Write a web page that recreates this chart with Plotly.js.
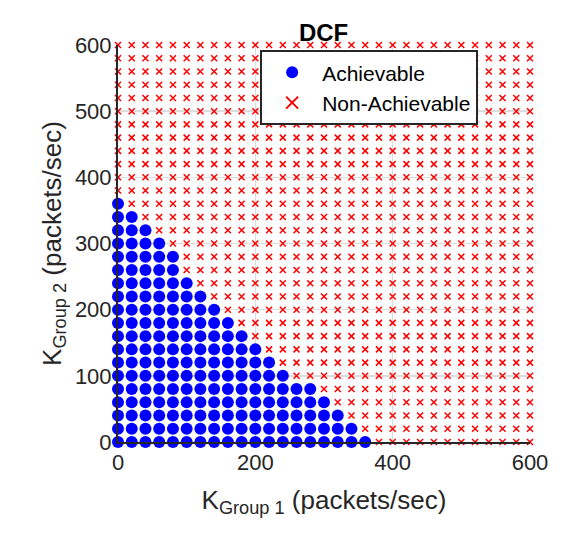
<!DOCTYPE html>
<html><head><meta charset="utf-8">
<script src="https://cdn.plot.ly/plotly-3.0.1.min.js"></script>
<style>body{margin:0}</style></head>
<body><div id="chart" style="width:583px;height:542px"></div>
<script>
// grid of offered loads (packets/sec), step 20
const step = 20;
const gridMax = 600;
// highest achievable K1 for each K2 row (K2 = 0, 20, 40, ...); rows above are all non-achievable
const maxK1ByRow = [360, 340, 320, 300, 280, 240, 220, 200, 180, 160, 140, 120, 100, 80, 80, 60, 40, 20, 0];

const achX = [], achY = [], nonX = [], nonY = [];
for (let k2 = 0; k2 <= gridMax; k2 += step) {
  const row = k2 / step;
  const lim = row < maxK1ByRow.length ? maxK1ByRow[row] : -1;
  for (let k1 = 0; k1 <= gridMax; k1 += step) {
    if (k1 <= lim) { achX.push(k1); achY.push(k2); }
    else { nonX.push(k1); nonY.push(k2); }
  }
}

const font = "Liberation Sans, Arial, sans-serif";
const data = [
  { x: achX, y: achY, type: "scatter", mode: "markers", name: "Achievable",
    marker: { color: "#0000ff", size: 12 }, cliponaxis: false },
  { x: nonX, y: nonY, type: "scatter", mode: "markers", name: "Non-Achievable",
    marker: { color: "#ff0000", size: 6, symbol: "x-thin", line: { color: "#ff0000", width: 1.5 } }, cliponaxis: false }
];

const axis = {
  range: [0, 600], showgrid: true, gridcolor: "#dcdcdc",
  gridwidth: 1.5, zeroline: false, showline: true, linecolor: "#262626", linewidth: 2,
  ticks: "", tickfont: { size: 22, color: "#262626", family: font }
};

const layout = {
  width: 583, height: 542,
  margin: { l: 118, r: 53, t: 45, b: 100 },
  paper_bgcolor: "white", plot_bgcolor: "white",
  font: { family: font, color: "#262626" },
  title: { text: "<b>DCF</b>", x: 0.555, xanchor: "center", y: 0.955, font: { size: 24, color: "black" } },
  xaxis: Object.assign({}, axis, {
    tickvals: [0, 200, 400, 600],
    title: { text: "K<sub>Group 1</sub> (packets/sec)", font: { size: 26, color: "#262626" }, standoff: 16 }
  }),
  yaxis: Object.assign({}, axis, {
    tickvals: [0, 100, 200, 300, 400, 500, 600],
    title: { text: "K<sub>Group 2</sub> (packets/sec)", font: { size: 26, color: "#262626" }, standoff: 6 }
  }),
  legend: {
    x: 0.345, y: 0.987, xanchor: "left", yanchor: "top",
    bgcolor: "white", bordercolor: "#262626", borderwidth: 2,
    font: { size: 21, color: "black" }, itemsizing: "constant", itemwidth: 50
  }
};

Plotly.newPlot("chart", data, layout, { staticPlot: true });
</script></body></html>
